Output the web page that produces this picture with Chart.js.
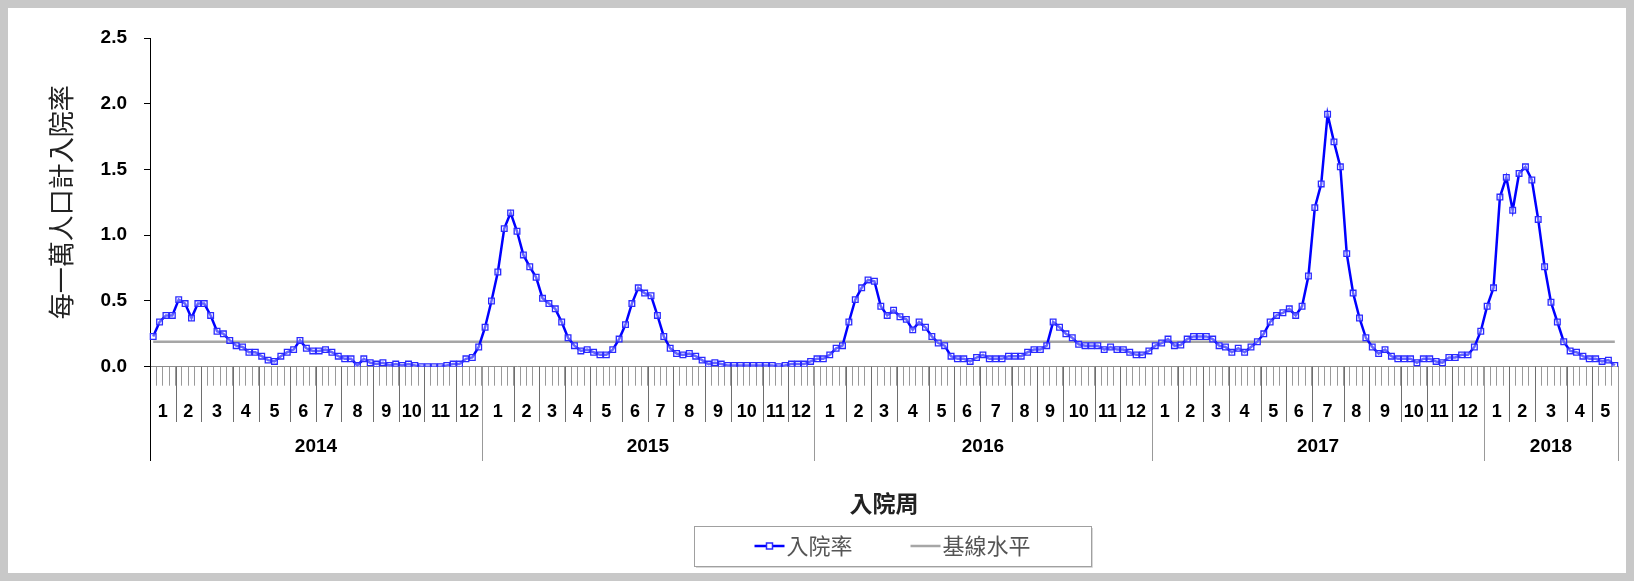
<!DOCTYPE html>
<html><head><meta charset="utf-8">
<script src="https://cdn.jsdelivr.net/npm/chart.js@4"></script>
<style>html,body{margin:0;padding:0;background:#fff;}canvas{display:block;}</style>
</head><body>
<canvas id="c" width="1634" height="581"></canvas>
<script>
// ---- data ----
const years = ['2014', '2015', '2016', '2017', '2018'];
const monthLabels = ['1','2','3','4','5','6','7','8','9','10','11','12'];
const weeksPerMonth2014 = [4,4,5,4,5,4,4,5,4,4,5,4];
const weeksPerMonth2015 = [5,4,4,4,5,4,4,5,4,5,4,4];
const weeksPerMonth2016 = [5,4,4,5,4,4,5,4,4,5,4,5];
const weeksPerMonth2017 = [4,4,4,5,4,4,5,4,5,4,4,5];
const weeksPerMonth2018 = [4,4,5,4,4];

const rate2014 = [0.23,0.34,0.39,0.39,0.51,0.48,0.37,0.48,0.48,0.39,0.27,0.25,0.20,0.16,0.15,0.11,0.11,0.08,0.05,0.04,0.08,0.11,0.13,0.20,0.14,0.12,0.12,0.13,0.11,0.08,0.06,0.06,0.01,0.06,0.03,0.02,0.03,0.01,0.02,0.01,0.02,0.01,0.00,0.00,0.00,0.00,0.01,0.02,0.02,0.06,0.07,0.15];
const rate2015 = [0.30,0.50,0.72,1.05,1.17,1.03,0.85,0.76,0.68,0.52,0.48,0.44,0.34,0.22,0.16,0.12,0.13,0.11,0.09,0.09,0.13,0.21,0.32,0.48,0.60,0.56,0.54,0.39,0.23,0.14,0.10,0.09,0.10,0.08,0.05,0.02,0.03,0.02,0.01,0.01,0.01,0.01,0.01,0.01,0.01,0.01,0.00,0.01,0.02,0.02,0.02,0.04];
const rate2016 = [0.06,0.06,0.09,0.14,0.16,0.34,0.51,0.60,0.66,0.65,0.46,0.39,0.43,0.38,0.36,0.28,0.34,0.30,0.23,0.18,0.16,0.08,0.06,0.06,0.04,0.07,0.09,0.06,0.06,0.06,0.08,0.08,0.08,0.11,0.13,0.13,0.16,0.34,0.30,0.25,0.22,0.17,0.16,0.16,0.16,0.13,0.15,0.13,0.13,0.11,0.09,0.09,0.12];
const rate2017 = [0.16,0.18,0.21,0.16,0.165,0.21,0.23,0.23,0.23,0.21,0.16,0.15,0.11,0.14,0.11,0.15,0.19,0.25,0.34,0.39,0.41,0.44,0.39,0.46,0.69,1.21,1.39,1.92,1.71,1.52,0.86,0.56,0.37,0.22,0.15,0.10,0.13,0.08,0.06,0.06,0.06,0.03,0.06,0.06,0.04,0.03,0.07,0.07,0.09,0.09,0.15,0.27];
const rate2018 = [0.46,0.60,1.29,1.44,1.19,1.47,1.52,1.42,1.12,0.76,0.49,0.34,0.19,0.12,0.11,0.08,0.06,0.06,0.04,0.05,0.01];
const baselineValue = 0.19;
const yTicks = [0, 0.5, 1.0, 1.5, 2.0, 2.5];

const seriesLabel = '入院率';
const baselineLabel = '基線水平';
const yTitle = '每一萬人口計入院率';
const xTitle = '入院周';

// ---- derived ----
const monthsByYear = [weeksPerMonth2014, weeksPerMonth2015, weeksPerMonth2016, weeksPerMonth2017, weeksPerMonth2018];
const ratesByYear = [rate2014, rate2015, rate2016, rate2017, rate2018];
const labels = [];
const rates = [];
years.forEach((yr, i) => {
  ratesByYear[i].forEach((v, w) => { labels.push(yr + '-W' + (w + 1)); rates.push(v); });
});
const baseline = labels.map(() => baselineValue);

const LATIN = '"Liberation Sans", Arial, sans-serif';
const CJK = '"Noto Sans CJK TC", "Noto Sans CJK SC", sans-serif';

const decoPlugin = {
  id: 'deco',
  beforeDraw(chart) {
    const ctx = chart.ctx;
    ctx.save();
    ctx.fillStyle = '#c8c8c8';
    ctx.fillRect(0, 0, chart.width, chart.height);
    ctx.fillStyle = '#ffffff';
    ctx.fillRect(8, 8, chart.width - 16, chart.height - 16);
    ctx.restore();
  },
  afterDraw(chart) {
    const ctx = chart.ctx;
    const xs = chart.scales.x;
    const area = chart.chartArea;
    const step = xs.getPixelForValue(1) - xs.getPixelForValue(0);
    const edge = k => xs.getPixelForValue(0) - step / 2 + k * step;
    const y0 = area.bottom;
    ctx.save();
    ctx.lineWidth = 1;
    ctx.strokeStyle = '#000';
    ctx.beginPath(); ctx.moveTo(Math.round(area.left) + 0.5, y0); ctx.lineTo(Math.round(area.left) + 0.5, 461); ctx.stroke();
    let k = 0;
    years.forEach((yr, yi) => {
      const wpm = monthsByYear[yi];
      const ks = k;
      wpm.forEach((n, mi) => {
        const a = edge(k), b = edge(k + n);
        ctx.fillStyle = '#000';
        ctx.font = 'bold 18px ' + LATIN;
        ctx.textAlign = 'center';
        ctx.textBaseline = 'middle';
        ctx.fillText(monthLabels[mi], (a + b) / 2, 412);
        k += n;
        if (mi < wpm.length - 1) {
          ctx.strokeStyle = '#6e6e6e';
          ctx.beginPath(); ctx.moveTo(Math.round(b) + 0.5, y0); ctx.lineTo(Math.round(b) + 0.5, 422); ctx.stroke();
        }
      });
      const a = edge(ks), b = edge(k);
      ctx.strokeStyle = '#999';
      ctx.beginPath(); ctx.moveTo(Math.round(b) + 0.5, y0); ctx.lineTo(Math.round(b) + 0.5, 461); ctx.stroke();
      ctx.fillStyle = '#000';
      ctx.font = 'bold 19px ' + LATIN;
      ctx.fillText(yr, (a + b) / 2, 447);
    });

    // legend
    const ds = chart.data.datasets;
    ctx.font = '22px ' + CJK;
    const w1 = ctx.measureText(ds[0].label).width;
    const w2 = ctx.measureText(ds[1].label).width;
    const symW = 30, gapT = 2, gapI = 58;
    const total = symW + gapT + w1 + gapI + symW + gapT + w2;
    const cx = 892.5, cy = 546;
    let x = cx - total / 2;
    ctx.strokeStyle = '#a0a0a0';
    ctx.strokeRect(694.5, 526.5, 397, 40);
    ctx.strokeStyle = '#d8d8d8';
    ctx.beginPath(); ctx.moveTo(1092.5, 528); ctx.lineTo(1092.5, 567.5); ctx.lineTo(696, 567.5); ctx.stroke();
    ctx.strokeStyle = ds[0].borderColor; ctx.lineWidth = 2.5;
    ctx.beginPath(); ctx.moveTo(x, cy); ctx.lineTo(x + symW, cy); ctx.stroke();
    ctx.lineWidth = 1.5; ctx.strokeStyle = ds[0].pointBorderColor; ctx.fillStyle = '#fff';
    ctx.fillRect(x + symW / 2 - 3, cy - 3, 6, 6);
    ctx.strokeRect(x + symW / 2 - 3, cy - 3, 6, 6);
    ctx.fillStyle = '#555'; ctx.textAlign = 'left'; ctx.textBaseline = 'middle';
    ctx.fillText(ds[0].label, x + symW + gapT, cy);
    x += symW + gapT + w1 + gapI;
    ctx.strokeStyle = ds[1].borderColor; ctx.lineWidth = 2.5;
    ctx.beginPath(); ctx.moveTo(x, cy); ctx.lineTo(x + symW, cy); ctx.stroke();
    ctx.fillStyle = '#555';
    ctx.fillText(ds[1].label, x + symW + gapT, cy);
    ctx.restore();
  }
};

new Chart(document.getElementById('c'), {
  type: 'line',
  data: {
    labels: labels,
    datasets: [
      {
        label: seriesLabel,
        data: rates,
        borderColor: '#0000ff',
        borderWidth: 2.5,
        pointStyle: 'rect',
        pointRadius: 4,
        pointBorderWidth: 1.3,
        pointBorderColor: '#2a2aff',
        pointBackgroundColor: 'rgba(255,255,255,0.4)',
        tension: 0,
        order: 1
      },
      {
        label: baselineLabel,
        data: baseline,
        borderColor: '#a6a6a6',
        borderWidth: 2.5,
        pointRadius: 0,
        order: 2
      }
    ]
  },
  options: {
    responsive: false,
    devicePixelRatio: 1,
    animation: false,
    layout: { padding: { left: 0, right: 16, top: 38, bottom: 50 } },
    plugins: { legend: { display: false }, tooltip: { enabled: false } },
    scales: {
      x: {
        type: 'category',
        offset: true,
        grid: { display: true, drawOnChartArea: false, drawTicks: true, tickLength: 19, offset: true, color: '#9a9a9a', lineWidth: 1 },
        border: { display: true, color: '#8c8c8c', width: 1 },
        ticks: { display: false, autoSkip: false },
        title: { display: true, text: xTitle, color: '#222', font: { family: CJK, size: 23, weight: 'bold' }, padding: { top: 0, bottom: 14 } },
        afterFit(scale) { scale.height = 164.3; }
      },
      y: {
        min: 0, max: 2.5,
        afterBuildTicks(scale) { scale.ticks = yTicks.map(v => ({ value: v })); },
        grid: { display: true, drawOnChartArea: false, drawTicks: true, tickLength: 6, color: '#000' },
        border: { display: true, color: '#000', width: 1 },
        ticks: { color: '#000', padding: 17, font: { family: LATIN, size: 19, weight: 'bold' }, callback: v => Number(v).toFixed(1) },
        title: { display: true, text: yTitle, color: '#222', font: { family: CJK, size: 26 }, padding: { top: 46, bottom: 0 } },
        afterFit(scale) { scale.width = 150; }
      }
    }
  },
  plugins: [decoPlugin]
});
</script>
</body></html>
